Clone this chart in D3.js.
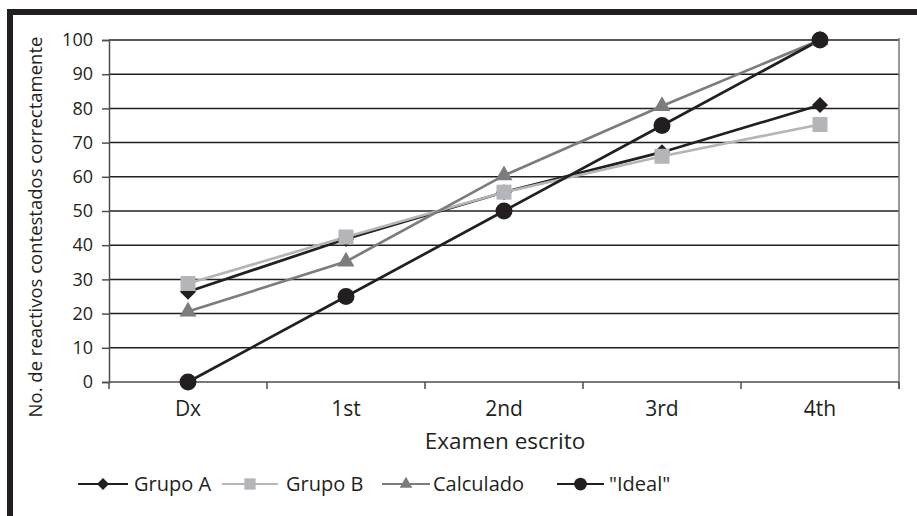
<!DOCTYPE html>
<html>
<head>
<meta charset="utf-8">
<script src="https://cdn.jsdelivr.net/npm/d3@7"></script>
<style>
  html, body { margin: 0; padding: 0; background: #fff; }
  svg { display: block; }
  text { font-family: "Open Sans", Lato, sans-serif; fill: #231f20; }
</style>
</head>
<body>
<svg id="chart" width="917" height="516"></svg>
<script>
// Exam stages and scores per group
const categories = ["Dx", "1st", "2nd", "3rd", "4th"];
const grupoA = [26.4, 41.8, 55.5, 67.2, 81];
const grupoB = [28.8, 42.4, 55.5, 66, 75.3];
const calculado = [20.6, 35.2, 60.4, 80.7, 100];
const ideal = [0, 25, 50, 75, 100];
const yTicks = [0, 10, 20, 30, 40, 50, 60, 70, 80, 90, 100];

const series = [
  { name: "Grupo A", values: grupoA, color: "#231f20", marker: "diamond", r: 8 },
  { name: "Grupo B", values: grupoB, color: "#b4b5b8", marker: "square", r: 7.5 },
  { name: "Calculado", values: calculado, color: "#7b7c7e", marker: "triangle", r: 8.5 },
  { name: "\"Ideal\"", values: ideal, color: "#231f20", marker: "circle", r: 8.5 }
];

// marker outline centred on the origin; r is the half-width
function markerPath(type, r) {
  const p = d3.path();
  if (type === "diamond") {
    p.moveTo(0, -r); p.lineTo(r, 0); p.lineTo(0, r); p.lineTo(-r, 0); p.closePath();
  } else if (type === "square") {
    p.rect(-r, -r, 2 * r, 2 * r);
  } else if (type === "triangle") {
    const h = r * Math.sqrt(3);
    p.moveTo(0, -h * 2 / 3); p.lineTo(r, h / 3); p.lineTo(-r, h / 3); p.closePath();
  } else {
    p.arc(0, 0, r, 0, 2 * Math.PI);
  }
  return p.toString();
}

const svg = d3.select("#chart");
const plotLeft = 109, plotRight = 899, plotTop = 40, plotBottom = 382;

const x = d3.scaleBand().domain(categories).range([plotLeft, plotRight]);
const y = d3.scaleLinear().domain([0, 100]).range([plotBottom, plotTop]);
const cx = c => x(c) + x.bandwidth() / 2;

// frame: top and left bars
svg.append("rect").attr("x", 7).attr("y", 9).attr("width", 910).attr("height", 6).attr("fill", "#231f20");
svg.append("rect").attr("x", 7).attr("y", 9).attr("width", 6).attr("height", 507).attr("fill", "#231f20");

// horizontal gridlines
svg.append("g").selectAll("line").data(yTicks.filter(d => d > 0)).join("line")
  .attr("x1", plotLeft).attr("x2", plotRight)
  .attr("y1", d => y(d)).attr("y2", d => y(d))
  .attr("stroke", "#231f20").attr("stroke-width", 1.5);

// right border of the plot
svg.append("line").attr("x1", plotRight).attr("x2", plotRight).attr("y1", plotTop - 2).attr("y2", plotBottom + 7)
  .attr("stroke", "#77787b").attr("stroke-width", 1.5);

// y axis
const yAxis = d3.axisLeft(y).tickValues(yTicks).tickSize(7).tickPadding(9);
const gy = svg.append("g").attr("transform", `translate(${plotLeft},0)`).call(yAxis);
gy.select(".domain").attr("stroke", "#4d4d4f").attr("stroke-width", 1.5);
gy.selectAll(".tick line").attr("stroke", "#4d4d4f").attr("stroke-width", 1.5);
gy.selectAll(".tick text").attr("font-size", 18).attr("font-family", "'Open Sans', sans-serif").attr("fill", "#231f20");

// x axis with ticks on band boundaries
svg.append("line").attr("x1", plotLeft).attr("x2", plotRight).attr("y1", plotBottom).attr("y2", plotBottom)
  .attr("stroke", "#4d4d4f").attr("stroke-width", 1.5);
const bounds = categories.map(c => x(c)).concat([x(categories[categories.length - 1]) + x.bandwidth()]);
svg.append("g").selectAll("line").data(bounds).join("line")
  .attr("x1", d => d).attr("x2", d => d).attr("y1", plotBottom).attr("y2", plotBottom + 7)
  .attr("stroke", "#4d4d4f").attr("stroke-width", 1.5);
svg.append("g").selectAll("text").data(categories).join("text")
  .attr("x", d => cx(d)).attr("y", 416)
  .attr("text-anchor", "middle").attr("font-size", 21).text(d => d);

// axis titles
svg.append("text").attr("x", (plotLeft + plotRight) / 2 + 1).attr("y", 449).attr("text-anchor", "middle")
  .attr("font-size", 22.5).text("Examen escrito");
svg.append("text").attr("transform", "translate(42,227) rotate(-90)").attr("text-anchor", "middle")
  .attr("font-size", 18.5).text("No. de reactivos contestados correctamente");

const line = d3.line().x((d, i) => cx(categories[i])).y(d => y(d));

// series lines, then markers on top
series.forEach(s => {
  svg.append("path").datum(s.values).attr("d", line)
    .attr("fill", "none").attr("stroke", s.color).attr("stroke-width", 2.7);
});
series.forEach(s => {
  svg.append("g").selectAll("path").data(s.values).join("path")
    .attr("transform", (d, i) => `translate(${cx(categories[i])},${y(d)})`)
    .attr("d", markerPath(s.marker, s.r))
    .attr("fill", s.color);
});

// legend
const legendItems = [
  { lx: 78, lw: 50, tx: 134 },
  { lx: 222, lw: 56, tx: 286 },
  { lx: 382, lw: 48, tx: 433 },
  { lx: 557, lw: 47, tx: 609 }
];
const ly = 484;
series.forEach((s, i) => {
  const it = legendItems[i];
  svg.append("line").attr("x1", it.lx).attr("x2", it.lx + it.lw).attr("y1", ly).attr("y2", ly)
    .attr("stroke", s.color).attr("stroke-width", 2.2);
  svg.append("path").attr("transform", `translate(${it.lx + it.lw / 2},${ly})`)
    .attr("d", markerPath(s.marker, s.r * 0.75)).attr("fill", s.color);
  svg.append("text").attr("x", it.tx).attr("y", ly + 7).attr("font-size", 20).text(s.name);
});
</script>
</body>
</html>
